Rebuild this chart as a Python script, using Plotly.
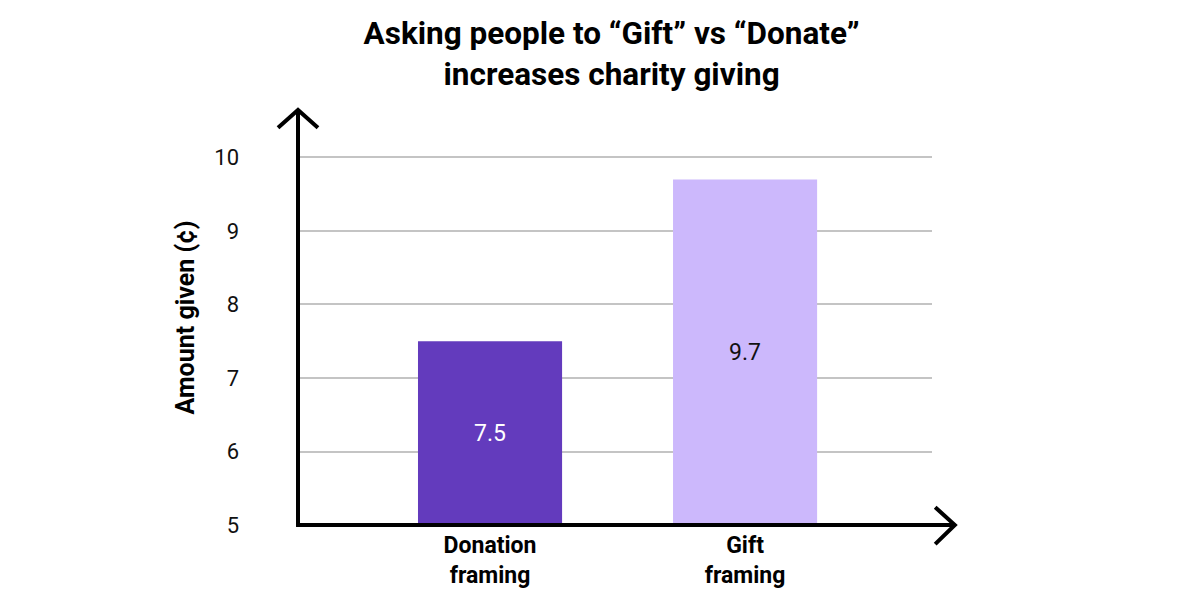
import plotly.graph_objects as go

# datos del grafico
categorias = ['Donation<br>framing', 'Gift<br>framing']
valores = [7.5, 9.7]
etiquetas = ['7.5', '9.7']
colores = ['#633bbd', '#ccb8fc']
colores_texto = ['white', '#111111']
ticks_y = [5, 6, 7, 8, 9, 10]
base_y = 5

fig = go.Figure()
fig.add_trace(go.Bar(
    x=categorias,
    y=[v - base_y for v in valores],
    base=base_y,
    text=etiquetas,
    textposition='inside',
    insidetextanchor='middle',
    textfont=dict(size=23, color=colores_texto, family='Roboto'),
    marker=dict(color=colores, line=dict(width=0)),
    width=0.565,
    hoverinfo='skip',
))

# flechas de los ejes (decoracion)
negro = dict(color='black', width=4)
fig.add_shape(type='line', xref='paper', yref='paper', x0=0, y0=-0.004, x1=0, y1=1, line=negro)
fig.add_shape(type='path', xref='paper', yref='paper',
              path='M -0.0315,0.957 L 0,1 L 0.0315,0.957', line=negro)
fig.add_shape(type='line', xref='paper', yref='paper', x0=-0.003, y0=0, x1=1.036, y1=0, line=negro)
fig.add_shape(type='path', xref='paper', yref='paper',
              path='M 1.005,0.043 L 1.036,0 L 1.005,-0.046', line=negro)

fig.update_layout(
    width=1200, height=600,
    margin=dict(l=290, r=276, t=102, b=83),
    plot_bgcolor='white', paper_bgcolor='white',
    showlegend=False,
    font=dict(family='Roboto', color='#111111'),
    title=dict(
        text='<b>Asking people to “Gift” vs “Donate”<br>increases charity giving</b>',
        x=0.503, xanchor='center', y=0.94, yanchor='top',
        font=dict(size=31.5, color='black', family='Roboto'),
    ),
    xaxis=dict(
        range=[-0.753, 1.733],
        showline=False, showgrid=False, zeroline=False,
        tickfont=dict(size=23, color='black', family='Roboto'),
        ticks='', ticklabelstandoff=4,
    ),
    yaxis=dict(
        range=[5, 10.646],
        tickvals=ticks_y,
        ticktext=[str(t) for t in ticks_y],
        showline=False, zeroline=False,
        showgrid=True, gridcolor='#c4c4c4', gridwidth=2,
        tickfont=dict(size=22, color='#111111', family='Roboto'),
        ticks='', ticklabelstandoff=58,
        title=dict(text='<b>Amount given (¢)</b>', font=dict(size=25, color='black'), standoff=12),
    ),
)
fig.update_xaxes(tickprefix='<b>', ticksuffix='</b>')

fig.write_html('out.html')
